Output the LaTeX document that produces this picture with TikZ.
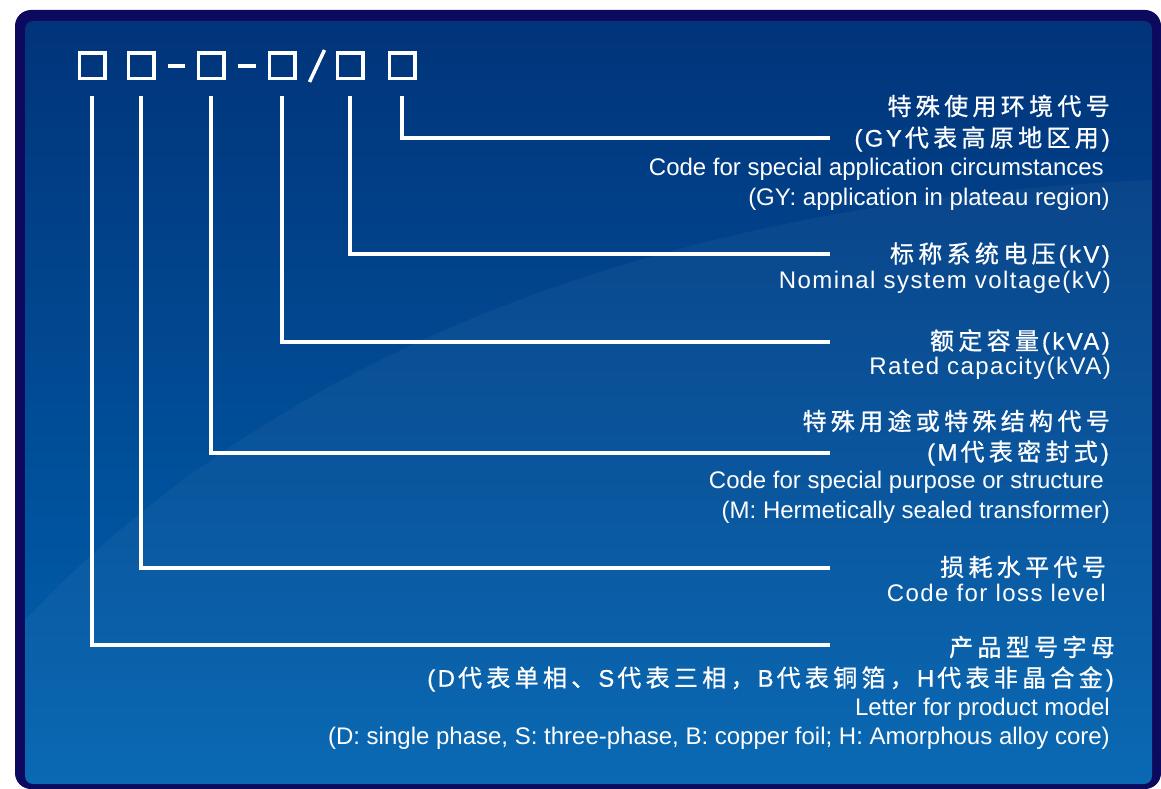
\documentclass[tikz,border=0pt]{standalone}
\usepackage{fontspec}
\setmainfont{Liberation Sans}
\newfontfamily\cjkfont[LetterSpace=18, FakeBold=0.8]{Noto Sans CJK SC}
\newfontfamily\widefont[LetterSpace=6]{Liberation Sans}
\newfontfamily\zhlatinfont[LetterSpace=10, FakeBold=0.5]{Liberation Sans}
\newcommand{\zh}[1]{{\kern3pt\cjkfont #1\kern3pt}}
\definecolor{framenavy}{HTML}{0C095E}
\definecolor{paneltop}{HTML}{01347A}
\definecolor{panelbottom}{HTML}{0063B0}
\tikzset{
  codebox/.style={draw=white, line width=3.5pt, minimum size=25.5pt, inner sep=0pt},
  sepline/.style={draw=white, line width=3.5pt},
  wire/.style={draw=white, line width=4pt},
  zhline/.style={anchor=east, inner sep=0pt, text=white, font=\fontsize{24}{26}\zhlatinfont},
  enline/.style={anchor=east, inner sep=0pt, text=white, font=\fontsize{24}{26}\selectfont},
  wideline/.style={anchor=east, inner sep=0pt, text=white, font=\fontsize{24}{26}\widefont},
}
\begin{document}
\begin{tikzpicture}[x=1pt, y=-1pt]
\useasboundingbox (0,0) rectangle (1161,789);
\fill [framenavy, rounded corners=16pt] (15,10) rectangle (1161,789);
\shade [top color=paneltop, bottom color=panelbottom, rounded corners=8pt] (25,21) rectangle (1152,784);
\begin{scope}
\clip [rounded corners=8pt] (25,21) rectangle (1152,784);
\fill [white, opacity=0.04] (25,620) .. controls (300,330) and (700,200) .. (1152,180) -- (1152,784) -- (25,784) -- cycle;
\end{scope}

\node (b1) at (92,66) [codebox] {};
\node (b2) at (141,66) [codebox] {};
\node (b3) at (211,66) [codebox] {};
\node (b4) at (282,66) [codebox] {};
\node (b5) at (350,66) [codebox] {};
\node (b6) at (402,66) [codebox] {};

\draw [sepline] ([xshift=12pt]b2.east) -- ([xshift=-12pt]b3.west);
\draw [sepline] ([xshift=12pt]b3.east) -- ([xshift=-12pt]b4.west);
\draw [sepline] ([xshift=13pt,yshift=-16pt]b4.east) -- ([xshift=-11pt,yshift=16pt]b5.west);

\coordinate (e6) at (830,138);
\coordinate (e5) at (830,254);
\coordinate (e4) at (830,342);
\coordinate (e3) at (830,453);
\coordinate (e2) at (830,568);
\coordinate (e1) at (830,645);

\draw [wire] ([yshift=-16pt]b6.south) |- (e6);
\draw [wire] ([yshift=-16pt]b5.south) |- (e5);
\draw [wire] ([yshift=-16pt]b4.south) |- (e4);
\draw [wire] ([yshift=-16pt]b3.south) |- (e3);
\draw [wire] ([yshift=-16pt]b2.south) |- (e2);
\draw [wire] ([yshift=-16pt]b1.south) |- (e1);

\node (t6a) at (1113,106) [zhline] {\zh{特殊使用环境代号}};
\node (t6b) at (1110,139) [zhline] {(GY\zh{代表高原地区用})};
\node (t6c) at (1104,169) [enline] {Code for special application circumstances};
\node (t6d) at (1110,199) [enline] {(GY: application in plateau region)};
\node (t5a) at (1110,255) [zhline] {\zh{标称系统电压}(kV)};
\node (t5b) at (1111,282) [wideline] {Nominal system voltage(kV)};
\node (t4a) at (1110,342) [zhline] {\zh{额定容量}(kVA)};
\node (t4b) at (1111,368) [wideline] {Rated capacity(kVA)};
\node (t3a) at (1113,421) [zhline] {\zh{特殊用途或特殊结构代号}};
\node (t3b) at (1109,453) [zhline] {(M\zh{代表密封式})};
\node (t3c) at (1104,482) [enline] {Code for special purpose or structure};
\node (t3d) at (1110,512) [enline] {(M: Hermetically sealed transformer)};
\node (t2a) at (1109,567) [zhline] {\zh{损耗水平代号}};
\node (t2b) at (1106,593) [wideline] {Code for loss level};
\node (t1a) at (1118,647) [zhline] {\zh{产品型号字母}};
\node (t1b) at (1114,679) [zhline] {(D\zh{代表单相、}S\zh{代表三相，}B\zh{代表铜箔，}H\zh{代表非晶合金})};
\node (t1c) at (1110,709) [enline] {Letter for product model};
\node (t1d) at (1110,738) [enline] {(D: single phase, S: three-phase, B: copper foil; H: Amorphous alloy core)};
\end{tikzpicture}
\end{document}
